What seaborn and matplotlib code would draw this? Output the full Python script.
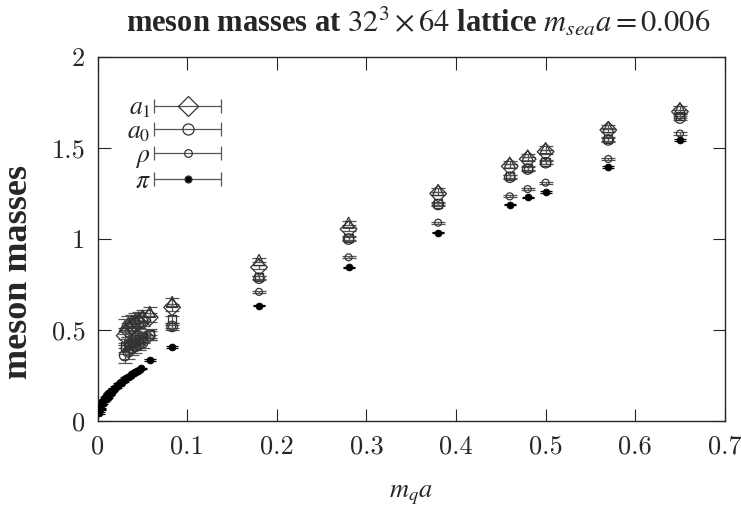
import numpy as np
import pandas as pd
import matplotlib
matplotlib.use("Agg")
import matplotlib.pyplot as plt
import seaborn as sns
from matplotlib.container import ErrorbarContainer
from matplotlib.legend_handler import HandlerErrorbar

# pion: many light quark masses
mq_pi = [0.001, 0.002, 0.003, 0.004, 0.005, 0.006, 0.007, 0.008, 0.009, 0.010,
         0.011, 0.012, 0.013, 0.014, 0.015, 0.016, 0.018, 0.020, 0.022, 0.024,
         0.026, 0.028, 0.030, 0.032, 0.034, 0.036, 0.038, 0.040, 0.042, 0.044,
         0.046, 0.048, 0.058, 0.083, 0.18, 0.28, 0.38, 0.46, 0.48, 0.50, 0.57, 0.65]
m_pi = [0.045, 0.065, 0.078, 0.090, 0.100, 0.108, 0.114, 0.120, 0.127, 0.133,
        0.140, 0.146, 0.152, 0.158, 0.163, 0.168, 0.178, 0.188, 0.197, 0.205,
        0.213, 0.221, 0.229, 0.236, 0.243, 0.250, 0.256, 0.263, 0.270, 0.276,
        0.283, 0.290, 0.335, 0.405, 0.635, 0.845, 1.035, 1.19, 1.23, 1.26, 1.395, 1.545]
err_pi = [0.004] * 32 + [0.005, 0.005, 0.004, 0.004, 0.004, 0.004, 0.004, 0.004, 0.004, 0.004]

# heavier mesons
mq_h = [0.030, 0.034, 0.038, 0.042, 0.046, 0.050, 0.058, 0.083,
        0.18, 0.28, 0.38, 0.46, 0.48, 0.50, 0.57, 0.65]
m_tri = [0.52, 0.54, 0.55, 0.56, 0.57, 0.58, 0.60, 0.655,
         0.885, 1.09, 1.27, 1.42, 1.46, 1.50, 1.615, 1.72]
m_a1 = [0.47, 0.50, 0.52, 0.53, 0.54, 0.55, 0.57, 0.625,
        0.845, 1.055, 1.25, 1.40, 1.44, 1.48, 1.60, 1.70]
m_sq = [0.41, 0.42, 0.43, 0.44, 0.45, 0.46, 0.48, 0.56,
        0.79, 1.005, 1.195, 1.345, 1.39, 1.425, 1.55, 1.675]
m_a0 = [0.36, 0.38, 0.40, 0.41, 0.42, 0.43, 0.47, 0.52,
        0.785, 1.00, 1.19, 1.34, 1.385, 1.42, 1.545, 1.665]
m_rho = [0.40, 0.41, 0.42, 0.43, 0.44, 0.45, 0.46, 0.52,
         0.71, 0.90, 1.09, 1.235, 1.275, 1.31, 1.44, 1.58]
err_big = [0.04, 0.04, 0.035, 0.035, 0.03, 0.03, 0.025, 0.02,
           0.01, 0.01, 0.01, 0.01, 0.01, 0.01, 0.01, 0.01]
err_rho = [0.02, 0.02, 0.02, 0.02, 0.015, 0.015, 0.012, 0.01,
           0.006, 0.006, 0.006, 0.006, 0.006, 0.006, 0.006, 0.006]

xticks = [0, 0.1, 0.2, 0.3, 0.4, 0.5, 0.6, 0.7]
xticklabels = ["0", "0.1", "0.2", "0.3", "0.4", "0.5", "0.6", "0.7"]
yticks = [0, 0.5, 1, 1.5, 2]
yticklabels = ["0", "0.5", "1", "1.5", "2"]

sns.set_style("ticks")
plt.rcParams["font.family"] = ["Liberation Serif", "DejaVu Serif"]
plt.rcParams["mathtext.fontset"] = "stix"

fig = plt.figure(figsize=(7.41, 5.29), dpi=100)
ax = fig.add_axes([0.132, 0.204, 0.846, 0.688])

ecol = "#555555"
mcol = "#333333"

series = [
    # values, errors, marker, size(pt)
    (m_tri, err_big, "^", 8),
    (m_a1, err_big, "D", 8.5),
    (m_sq, err_big, "s", 6),
    (m_a0, err_big, "o", 7.5),
    (m_rho, err_rho, "o", 5),
]
for vals, errs, mk, ms in series:
    ax.errorbar(mq_h, vals, yerr=errs, fmt="none", ecolor=ecol, elinewidth=0.9,
                capsize=5, capthick=0.9, zorder=2)
    df = pd.DataFrame({"mq": mq_h, "m": vals})
    sns.scatterplot(data=df, x="mq", y="m", marker=mk, s=ms ** 2,
                    facecolor="none", edgecolor=mcol, linewidth=0.9, ax=ax, zorder=3)

ax.errorbar(mq_pi, m_pi, yerr=err_pi, fmt="none", ecolor="black", elinewidth=0.9,
            capsize=4, capthick=0.9, zorder=2)
df_pi = pd.DataFrame({"mq": mq_pi, "m": m_pi})
sns.scatterplot(data=df_pi, x="mq", y="m", marker="o", s=5 ** 2, color="black",
                edgecolor="black", linewidth=0.5, ax=ax, zorder=4)

# legend proxies drawn as horizontal error bars
handles = []
for mk, ms, fc, lab in [("D", 10.5, "none", r"$a_1$"), ("o", 8, "none", r"$a_0$"),
                        ("o", 5.5, "none", r"$\rho$"), ("o", 5, "black", r"$\pi$")]:
    h = ax.errorbar([np.nan], [np.nan], xerr=[0.01], fmt=mk, ms=ms, mfc=fc, mec=mcol,
                    mew=0.9, ecolor=ecol, elinewidth=0.9, capsize=5, capthick=0.9,
                    label=lab)
    handles.append(h)
leg = ax.legend(handles=handles, loc="upper left", frameon=False, markerfirst=False,
                handlelength=2.6, handletextpad=0.15, labelspacing=0.0,
                fontsize=18.5, borderaxespad=0.5, bbox_to_anchor=(0.01, 0.955),
                handler_map={ErrorbarContainer: HandlerErrorbar(xerr_size=1.3)})

ax.set_xlim(0, 0.7)
ax.set_ylim(0, 2)
ax.set_xticks(xticks)
ax.set_xticklabels(xticklabels, fontfamily="cmr10", fontsize=19)
ax.set_yticks(yticks)
ax.set_yticklabels(yticklabels, fontfamily="cmr10", fontsize=19)
ax.tick_params(direction="in", length=9, width=0.8, top=True, right=True)
ax.tick_params(axis="x", pad=10)
ax.tick_params(axis="y", pad=9)
for sp in ax.spines.values():
    sp.set_linewidth(1.0)
    sp.set_visible(True)

ax.set_xlabel(r"$m_q a$", fontsize=19, labelpad=18)
ax.set_ylabel("meson masses", fontsize=26, fontweight="bold")
ax.yaxis.set_label_coords(-0.1, 0.41)
fig.suptitle(r"meson masses at $32^3\times 64$ lattice $m_{sea}a = 0.006$",
             fontsize=22, fontweight="bold", x=0.565, y=0.99)

fig.savefig("out.png", dpi=100)
